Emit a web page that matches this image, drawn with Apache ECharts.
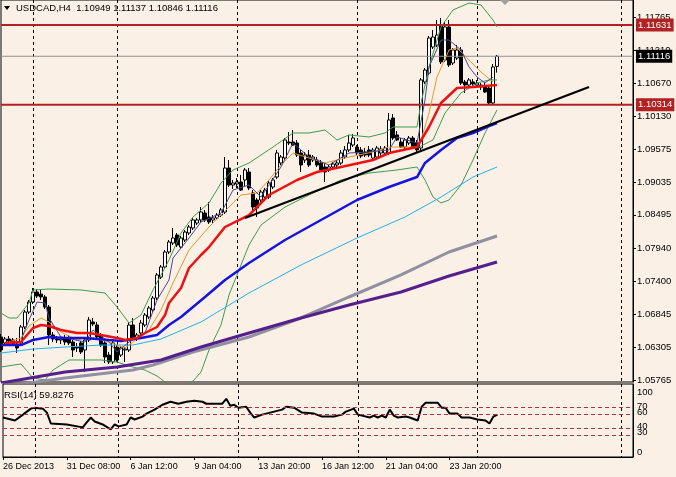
<!DOCTYPE html>
<html><head><meta charset="utf-8">
<script src="https://cdn.jsdelivr.net/npm/echarts@6/dist/echarts.min.js"></script>
<style>html,body{margin:0;padding:0;background:#faf0e6;}#c{width:676px;height:477px;}</style>
</head><body><div id="c"></div>
<script>
const symbolTitle = 'USDCAD,H4  1.10949 1.11137 1.10846 1.11116';
const rsiTitle = 'RSI(14) 59.8276';
const xTickLabels = ['26 Dec 2013','31 Dec 08:00','6 Jan 12:00','9 Jan 04:00','13 Jan 20:00','16 Jan 12:00','21 Jan 04:00','23 Jan 20:00'];
const priceTicks = [1.05765,1.06305,1.06845,1.07400,1.07940,1.08495,1.09035,1.09575,1.10130,1.10670,1.11210,1.11765];
const rsiTicks = [0,30,40,60,70,100];
const rsiLevels = [70,60,40,30];
const levelLines = [1.11631,1.10314];
const lastPrice = 1.11116;
const gridSlots = [8,29,59,89,119,155];

const opens = [
1.06476,1.06377,1.06443,1.06426,1.06360,1.06377,1.06641,1.06889,1.07054,1.07220,
1.07186,1.07137,1.06972,1.06509,1.06443,1.06426,1.06443,1.06459,1.06393,1.06310,
1.06377,1.06261,1.06426,1.06724,1.06674,1.06509,1.06377,1.06178,1.06063,1.06310,
1.06178,1.06261,1.06261,1.06674,1.06459,1.06542,1.06674,1.06806,1.06922,1.07120,
1.07467,1.07633,1.07881,1.08029,1.08162,1.07963,1.08079,1.08195,1.08277,1.08360,
1.08410,1.08525,1.08459,1.08410,1.08443,1.08492,1.08542,1.09269,1.08988,1.09005,
1.09038,1.09071,1.09203,1.08856,1.08740,1.08740,1.08790,1.08790,1.08955,1.09120,
1.09352,1.09434,1.09699,1.09699,1.09682,1.09517,1.09401,1.09484,1.09401,1.09401,
1.09352,1.09286,1.09236,1.09286,1.09319,1.09352,1.09451,1.09567,1.09649,1.09616,
1.09567,1.09534,1.09567,1.09434,1.09451,1.09517,1.09517,1.09517,1.10096,1.09815,
1.09699,1.09616,1.09682,1.09765,1.09682,1.09600,1.10691,1.10839,1.11269,1.11302,
1.11633,1.11054,1.11600,1.11005,1.11087,1.11220,1.10691,1.10641,1.10691,1.10641,
1.10641,1.10608,1.10591,1.10344,1.10949];
const highs = [
1.06525,1.06476,1.06492,1.06459,1.06459,1.06674,1.06922,1.07087,1.07286,1.07269,
1.07253,1.07170,1.07005,1.06558,1.06492,1.06492,1.06509,1.06509,1.06426,1.06377,
1.06410,1.06459,1.06806,1.06790,1.06724,1.06542,1.06410,1.06228,1.06410,1.06343,
1.06327,1.06310,1.06724,1.06790,1.06542,1.06757,1.06872,1.06988,1.07153,1.07534,
1.07666,1.07914,1.08079,1.08277,1.08195,1.08145,1.08244,1.08327,1.08443,1.08443,
1.08624,1.08575,1.08707,1.08492,1.08525,1.08608,1.09451,1.09401,1.09071,1.09104,
1.09153,1.09269,1.09269,1.08905,1.08773,1.08905,1.08939,1.09054,1.09104,1.09567,
1.09484,1.09765,1.09864,1.09897,1.09732,1.09567,1.09534,1.09567,1.09484,1.09451,
1.09401,1.09352,1.09319,1.09368,1.09401,1.09567,1.09633,1.09815,1.09831,1.09649,
1.09616,1.09600,1.09633,1.09600,1.09633,1.09633,1.09633,1.10178,1.10162,1.09881,
1.09765,1.09765,1.09798,1.09798,1.09732,1.10757,1.10922,1.11451,1.11550,1.11715,
1.11748,1.11682,1.11715,1.11253,1.11302,1.11269,1.10724,1.10757,1.10740,1.10724,
1.10674,1.10674,1.10641,1.10988,1.11137];
const lows = [
1.06228,1.06343,1.06377,1.06327,1.06211,1.06343,1.06608,1.06856,1.07021,1.07120,
1.07087,1.06939,1.06343,1.06393,1.06377,1.06360,1.06343,1.06343,1.06145,1.06228,
1.06195,1.05897,1.06393,1.06658,1.06443,1.06310,1.06046,1.06030,1.06030,1.06063,
1.06145,1.06063,1.06228,1.06426,1.06410,1.06509,1.06641,1.06773,1.06889,1.07087,
1.07434,1.07600,1.07848,1.07996,1.07963,1.07930,1.08046,1.08162,1.08244,1.08327,
1.08377,1.08377,1.08344,1.08360,1.08410,1.08459,1.08509,1.08955,1.08922,1.08939,
1.08889,1.08972,1.08905,1.08575,1.08459,1.08707,1.08757,1.08757,1.08922,1.09087,
1.09319,1.09401,1.09649,1.09633,1.09451,1.09203,1.09352,1.09286,1.09368,1.09286,
1.09203,1.09038,1.09203,1.09269,1.09286,1.09319,1.09418,1.09534,1.09616,1.09484,
1.09434,1.09451,1.09451,1.09401,1.09418,1.09467,1.09484,1.09484,1.09732,1.09715,
1.09600,1.09583,1.09649,1.09600,1.09517,1.09567,1.10658,1.10806,1.11236,1.11269,
1.10988,1.11021,1.10939,1.10972,1.11054,1.10641,1.10509,1.10591,1.10608,1.10591,
1.10558,1.10509,1.10327,1.10327,1.10846];
const closes = [
1.06261,1.06443,1.06410,1.06343,1.06294,1.06641,1.06889,1.07054,1.07220,1.07153,
1.07137,1.06972,1.06509,1.06443,1.06426,1.06443,1.06393,1.06377,1.06261,1.06294,
1.06228,1.06426,1.06757,1.06691,1.06476,1.06343,1.06145,1.06063,1.06377,1.06096,
1.06294,1.06277,1.06674,1.06459,1.06509,1.06707,1.06839,1.06955,1.07120,1.07501,
1.07633,1.07881,1.08046,1.08112,1.07996,1.08112,1.08211,1.08294,1.08410,1.08410,
1.08542,1.08410,1.08377,1.08443,1.08492,1.08575,1.09269,1.08988,1.09021,1.09038,
1.08905,1.09236,1.08939,1.08624,1.08608,1.08872,1.08905,1.09021,1.09071,1.09517,
1.09451,1.09732,1.09682,1.09649,1.09484,1.09319,1.09484,1.09319,1.09451,1.09319,
1.09236,1.09203,1.09286,1.09335,1.09352,1.09517,1.09567,1.09682,1.09765,1.09517,
1.09467,1.09484,1.09484,1.09567,1.09600,1.09583,1.09600,1.10063,1.09765,1.09732,
1.09616,1.09732,1.09765,1.09616,1.09567,1.10724,1.10889,1.11418,1.11434,1.11467,
1.11021,1.11600,1.10972,1.11220,1.11220,1.10674,1.10641,1.10724,1.10658,1.10674,
1.10608,1.10525,1.10344,1.10939,1.11116];

// indicator lines: [bar index, value]
const maRed = [[1,1.06377],[5,1.06393],[8,1.06625],[10,1.06674],[12,1.06658],[15,1.06591],[19,1.06542],[22,1.06542],[25,1.06509],[29,1.06459],[31,1.06426],[34,1.06459],[36,1.06542],[39,1.06641],[41,1.06839],[42,1.07038],[45,1.07286],[47,1.07616],[50,1.07831],[52,1.07963],[56,1.08294],[60,1.08426],[62,1.08492],[67,1.08823],[74,1.09071],[79,1.09203],[85,1.09286],[93,1.09401],[97,1.09517],[104,1.09616],[107,1.09947],[110,1.10344],[114,1.10591],[118,1.10608],[124,1.10641]];
const maBlue = [[0,1.06343],[5,1.06343],[8,1.06426],[12,1.06476],[16,1.06459],[21,1.06459],[27,1.06426],[30,1.06410],[35,1.06459],[39,1.06509],[42,1.06674],[45,1.06806],[51,1.07137],[56,1.07418],[62,1.07699],[71,1.08079],[80,1.08410],[89,1.08740],[97,1.08955],[104,1.09120],[106,1.09352],[110,1.09567],[114,1.09765],[118,1.09848],[122,1.09963],[124,1.10013]];
const maCyan = [[0,1.06211],[8,1.06277],[16,1.06310],[25,1.06343],[33,1.06343],[40,1.06443],[50,1.06724],[62,1.07203],[75,1.07666],[89,1.08112],[101,1.08459],[110,1.08790],[118,1.09120],[124,1.09286]];
const maGray = [[0,1.05650],[16,1.05798],[33,1.05930],[38,1.06013],[48,1.06228],[62,1.06476],[75,1.06790],[87,1.07137],[100,1.07501],[112,1.07881],[124,1.08145]];
const maPurple = [[0,1.05715],[16,1.05897],[29,1.05980],[40,1.06096],[50,1.06311],[62,1.06542],[75,1.06790],[87,1.07005],[100,1.07220],[112,1.07484],[124,1.07715]];
const maOrange = [[2,1.06393],[5,1.06459],[7,1.06658],[10,1.06790],[12,1.06724],[15,1.06558],[19,1.06426],[22,1.06476],[27,1.06393],[31,1.06294],[33,1.06393],[37,1.06591],[40,1.06922],[43,1.07368],[47,1.07914],[52,1.08294],[57,1.08624],[60,1.08823],[64,1.08856],[67,1.09071],[70,1.09319],[73,1.09517],[77,1.09434],[81,1.09352],[87,1.09451],[93,1.09534],[97,1.09616],[104,1.09616],[105,1.09732],[107,1.10178],[109,1.10773],[112,1.11220],[114,1.11253],[117,1.11054],[120,1.10856],[123,1.10691]];
const maNavy = [[5,1.06426],[7,1.06757],[9,1.07054],[11,1.07038],[12,1.06790],[15,1.06476],[21,1.06393],[23,1.06591],[27,1.06393],[29,1.06228],[32,1.06393],[36,1.06542],[39,1.07087],[42,1.07418],[43,1.07781],[47,1.08112],[50,1.08377],[55,1.08525],[58,1.08905],[62,1.08988],[65,1.08790],[70,1.09286],[73,1.09682],[77,1.09451],[82,1.09319],[87,1.09517],[92,1.09534],[97,1.09567],[99,1.09782],[104,1.09682],[106,1.10393],[107,1.10939],[110,1.11385],[112,1.11385],[115,1.11220],[117,1.10939],[119,1.10773],[121,1.10674],[123,1.10773]];
const bbUpper = [[0,1.06872],[2,1.06790],[4,1.06790],[7,1.07038],[8,1.07253],[12,1.07269],[20,1.07253],[26,1.07203],[29,1.06972],[32,1.06707],[35,1.06839],[38,1.07253],[42,1.07748],[45,1.08195],[48,1.08459],[52,1.08691],[55,1.09021],[58,1.09236],[62,1.09352],[68,1.09616],[73,1.09848],[77,1.09848],[81,1.09897],[84,1.09732],[87,1.09815],[92,1.09782],[96,1.09848],[98,1.09947],[104,1.09947],[105,1.10344],[107,1.10939],[110,1.11600],[113,1.11881],[117,1.11996],[120,1.11963],[123,1.11715],[124,1.11600]];
const bbMiddle = [[104,1.09600],[108,1.09732],[111,1.10178],[115,1.10509],[119,1.10674],[122,1.10724],[124,1.10724]];
const bbLower = [[0,1.05980],[5,1.06030],[8,1.05798],[11,1.05765],[13,1.05930],[17,1.06096],[25,1.06096],[29,1.06063],[32,1.05996],[36,1.05930],[39,1.05831],[42,1.05682],[46,1.05666],[48,1.05748],[50,1.05897],[52,1.06261],[55,1.06674],[57,1.07170],[60,1.07666],[62,1.07996],[65,1.08327],[71,1.08624],[77,1.08823],[85,1.09071],[92,1.09186],[99,1.09236],[104,1.09286],[106,1.09071],[108,1.08790],[110,1.08691],[112,1.08740],[115,1.08988],[118,1.09401],[121,1.09848],[124,1.10228]];
const trendLine = [[61,1.08443],[147,1.10608]];
const rsi = [[0,55.6],[3,51.4],[5,59.7],[7,68.1],[8,69.4],[10,68.1],[11,62.5],[12,47.2],[16,45.8],[20,41.7],[21,48.6],[22,55.6],[23,50.0],[25,45.8],[27,38.9],[28,45.8],[29,43.1],[31,45.8],[32,55.6],[33,52.8],[35,56.9],[36,61.1],[38,66.7],[40,73.6],[42,77.8],[44,75.0],[46,77.8],[48,79.2],[50,77.8],[51,75.0],[55,75.0],[56,81.9],[57,72.2],[58,73.6],[59,69.4],[61,70.8],[62,62.5],[63,55.6],[65,59.7],[66,61.1],[68,63.9],[70,66.7],[71,70.8],[73,69.4],[75,62.5],[78,61.1],[80,56.9],[83,56.9],[85,59.7],[86,63.9],[88,68.1],[89,59.7],[90,58.3],[92,55.6],[93,58.3],[94,55.6],[95,58.3],[96,55.6],[97,66.7],[98,58.3],[99,55.6],[101,56.9],[102,55.6],[104,51.4],[105,70.8],[106,76.4],[107,76.4],[109,76.4],[110,69.4],[111,69.4],[112,61.1],[113,61.1],[114,61.1],[115,55.6],[117,55.6],[119,52.8],[121,51.4],[122,47.2],[123,56.9],[124,59.83]];

const SLOTS = 159;
const slots = Array.from({length: SLOTS}, (_, i) => String(i));
const FONT = 'Liberation Sans, Arial, sans-serif';

const chart = echarts.init(document.getElementById('c'));
function ln(data, color, width, z) {
  return {type:'line', xAxisIndex:0, yAxisIndex:0, data, symbol:'none', silent:true,
    lineStyle:{color, width}, z: z, animation:false};
}
const candleData = opens.map((o, i) => [o, closes[i], lows[i], highs[i]]);
function levelSeries(v, color, width, bg) {
  return {type:'line', xAxisIndex:0, yAxisIndex:0, data:[[0, v], [SLOTS - 1, v]], symbol:'none', silent:true,
    lineStyle:{color, width}, z:3, animation:false,
    endLabel:{show:true, distance:3, formatter: v.toFixed(5), color:'#fff',
      backgroundColor:bg, padding:[2,2,1,2], fontSize:9.5, fontFamily:FONT}};
}
const rsiShift = {100:6, 70:-1, 60:-2, 40:-2, 30:-3, 0:-5};
const xSplit = {show:true, interval:(i)=>gridSlots.indexOf(i) >= 0,
  lineStyle:{color:'#000', type:[3,3], width:1}};

chart.setOption({
  animation:false,
  backgroundColor:'#faf0e6',
  title:[
    {text:symbolTitle, left:16, top:3, padding:0, textStyle:{fontSize:9.5, fontWeight:'normal', color:'#000', fontFamily:FONT}},
    {text:rsiTitle, left:4, top:390, padding:0, textStyle:{fontSize:9.5, fontWeight:'normal', color:'#000', fontFamily:FONT}}
  ],
  graphic:[
    {type:'polygon', shape:{points:[[4,6],[10,6],[7,10]]}, style:{fill:'#000'}},
    {type:'polygon', shape:{points:[[500,0],[510,0],[505,5]]}, style:{fill:'#a0a0a0'}}
  ],
  grid:[
    {left:1, right:43, top:0, height:382, show:true, borderColor:'#000', borderWidth:1, backgroundColor:'transparent'},
    {left:1, right:43, top:384, height:73, show:true, borderColor:'#000', borderWidth:1, backgroundColor:'transparent'}
  ],
  xAxis:[
    {type:'category', gridIndex:0, data:slots, boundaryGap:false, axisLine:{show:false}, axisTick:{show:false}, axisLabel:{show:false}, splitLine:xSplit},
    {type:'category', gridIndex:1, data:slots, boundaryGap:false,
      axisLine:{show:true, lineStyle:{color:'#000'}},
      axisTick:{show:true, inside:false, length:3, interval:(i)=> i % 16 === 0 && i/16 < xTickLabels.length, lineStyle:{color:'#000'}},
      axisLabel:{show:true, interval:(i)=> i % 16 === 0 && i/16 < xTickLabels.length, align:'left', margin:5,
        formatter:(v, i)=> xTickLabels[i/16] || '', color:'#000', fontSize:9, fontFamily:FONT},
      splitLine:xSplit}
  ],
  yAxis:[
    {type:'value', gridIndex:0, position:'right', min:1.05732, max:1.12046,
      axisLine:{show:true, lineStyle:{color:'#000'}},
      axisTick:{show:true, length:3, customValues:priceTicks, lineStyle:{color:'#000'}},
      axisLabel:{show:true, customValues:priceTicks, margin:4, formatter:(v)=>v.toFixed(5), color:'#000', fontSize:9.5, fontFamily:FONT},
      splitLine:{show:false}},
    {type:'value', gridIndex:1, position:'right', min:0, max:102.8,
      axisLine:{show:true, lineStyle:{color:'#000'}},
      axisTick:{show:false},
      axisLabel:{show:true, customValues:rsiTicks, margin:4,
        formatter:(v)=> '{s' + v + '|' + v + '}',
        rich: Object.fromEntries(rsiTicks.map(t => ['s' + t, {
          padding: rsiShift[t] > 0 ? [rsiShift[t]*2,0,0,0] : [0,0,-rsiShift[t]*2,0],
          fontSize:9.5, fontFamily:FONT, color:'#000'}])),
        color:'#000', fontSize:9.5, fontFamily:FONT},
      splitLine:{show:false}}
  ],
  series:[
    {type:'candlestick', xAxisIndex:0, yAxisIndex:0, data:candleData, barWidth:3, z:2, silent:true,
      itemStyle:{color:'#ffffff', color0:'#000000', borderColor:'#000000', borderColor0:'#000000', borderWidth:1}},
    levelSeries(lastPrice, '#909090', 1, '#000000'),
    levelSeries(levelLines[0], '#b22222', 2, '#b22222'),
    levelSeries(levelLines[1], '#b22222', 2, '#b22222'),
    ln(bbUpper, '#3c9c50', 1, 3),
    ln(bbMiddle, '#3c9c50', 1, 3),
    ln(bbLower, '#3c9c50', 1, 3),
    ln(maCyan, '#22b0ee', 1, 3),
    ln(maOrange, '#e69a28', 1, 3),
    ln(maNavy, '#484890', 1, 3),
    ln(maGray, '#9090a0', 3, 4),
    ln(maPurple, '#55208c', 3, 4),
    ln(maBlue, '#1414e0', 2.5, 4),
    ln(maRed, '#ee1111', 2.5, 4),
    ln(trendLine, '#000000', 2, 5),
    {type:'line', xAxisIndex:1, yAxisIndex:1, data:rsi, symbol:'none', silent:true, lineStyle:{color:'#000', width:2}, z:4,
      markLine:{silent:true, symbol:['none','none'], animation:false, label:{show:false},
        lineStyle:{color:'#b03050', type:[4,3], width:1},
        data: rsiLevels.map(v => ({yAxis:v}))}}
  ]
});
</script></body></html>
